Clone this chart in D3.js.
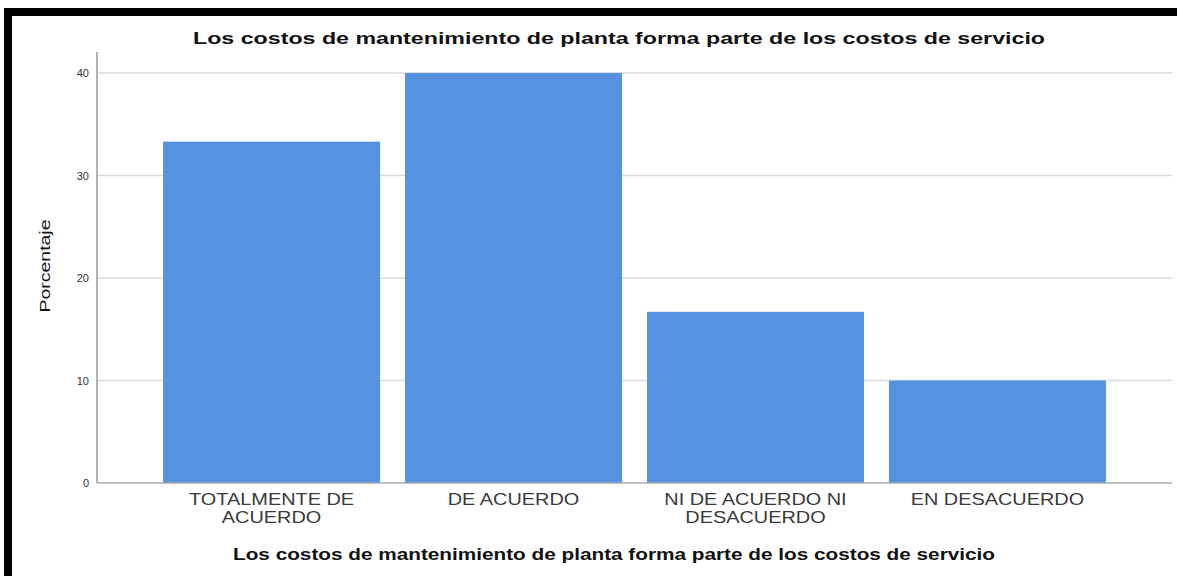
<!DOCTYPE html>
<html>
<head>
<meta charset="utf-8">
<script src="https://cdn.jsdelivr.net/npm/d3@7"></script>
<style>
html,body{margin:0;padding:0;background:#fff;}
svg{display:block;}
</style>
</head>
<body>
<svg id="chart" width="1177" height="576"></svg>
<script>
const categories = ["TOTALMENTE DE|ACUERDO", "DE ACUERDO", "NI DE ACUERDO NI|DESACUERDO", "EN DESACUERDO"];
const values = [33.3, 40.0, 16.7, 10.0];
const yTicks = [0, 10, 20, 30, 40];
const chartTitle = "Los costos de mantenimiento de planta forma parte de los costos de servicio";
const xTitle = "Los costos de mantenimiento de planta forma parte de los costos de servicio";
const yTitle = "Porcentaje";

const svg = d3.select("#chart");
const W = 1177, H = 576;
svg.append("rect").attr("width", W).attr("height", H).attr("fill", "#fff");

// frame (top and left black bands)
svg.append("rect").attr("x", 4).attr("y", 8).attr("width", W - 4).attr("height", 8).attr("fill", "#000");
svg.append("rect").attr("x", 4).attr("y", 8).attr("width", 8).attr("height", H - 8).attr("fill", "#000");

const x0 = 97, x1 = 1172, yBase = 483, yTop = 73;
const x = d3.scaleBand().domain(categories).range([x0, x1]).paddingInner(0.103).paddingOuter(0.273);
const y = d3.scaleLinear().domain([0, 40]).range([yBase, yTop]);

// gridlines
svg.append("g").selectAll("line").data(yTicks.filter(d => d > 0)).join("line")
  .attr("x1", x0).attr("x2", x1)
  .attr("y1", d => y(d)).attr("y2", d => y(d))
  .attr("stroke", "#d9d9d9").attr("stroke-width", 1.5);

// bars
svg.append("g").selectAll("rect").data(values).join("rect")
  .attr("x", (d, i) => x(categories[i]))
  .attr("width", x.bandwidth())
  .attr("y", d => y(d))
  .attr("height", d => yBase - y(d))
  .attr("fill", "#5592e0");

// axes
const yAxis = d3.axisLeft(y).tickValues(yTicks).tickSize(0).tickPadding(8);
const gy = svg.append("g").attr("transform", `translate(${x0},0)`).call(yAxis);
gy.select(".domain").remove();
gy.selectAll("text").attr("font-family", "Liberation Sans, Arial, sans-serif").attr("font-size", 11).attr("fill", "#333");
svg.append("line").attr("x1", x0).attr("x2", x0).attr("y1", 52).attr("y2", yBase).attr("stroke", "#999").attr("stroke-width", 1.5);
svg.append("line").attr("x1", x0).attr("x2", x1).attr("y1", yBase).attr("y2", yBase).attr("stroke", "#aaa").attr("stroke-width", 1.5);

const xAxis = d3.axisBottom(x).tickSize(0).tickFormat("");
const gx = svg.append("g").attr("transform", `translate(0,${yBase})`).call(xAxis);
gx.select(".domain").remove();

// category labels
categories.forEach((c, i) => {
  const lines = c.split("|");
  const cx = x(c) + x.bandwidth() / 2;
  lines.forEach((ln, j) => {
    const t = svg.append("text")
      .attr("x", cx).attr("y", 505 + j * 18)
      .attr("text-anchor", "middle")
      .attr("font-family", "Liberation Sans, Arial, sans-serif")
      .attr("font-size", 17).attr("fill", "#3a3a3a")
      .text(ln);
    const w = t.node().getComputedTextLength();
    t.attr("textLength", w * 1.17).attr("lengthAdjust", "spacingAndGlyphs");
  });
});

function fitText(sel, target) {
  sel.attr("textLength", target).attr("lengthAdjust", "spacingAndGlyphs");
}

// chart title
fitText(svg.append("text").attr("x", 619).attr("y", 44).attr("text-anchor", "middle")
  .attr("font-family", "Liberation Sans, Arial, sans-serif").attr("font-weight", "bold")
  .attr("font-size", 16).attr("fill", "#111").text(chartTitle), 852);

// x title
fitText(svg.append("text").attr("x", 614).attr("y", 560).attr("text-anchor", "middle")
  .attr("font-family", "Liberation Sans, Arial, sans-serif").attr("font-weight", "bold")
  .attr("font-size", 16).attr("fill", "#111").text(xTitle), 762);

// y title
fitText(svg.append("text").attr("transform", "translate(50,266) rotate(-90)").attr("text-anchor", "middle")
  .attr("font-family", "Liberation Sans, Arial, sans-serif")
  .attr("font-size", 15).attr("fill", "#111").text(yTitle), 93);
</script>
</body>
</html>
